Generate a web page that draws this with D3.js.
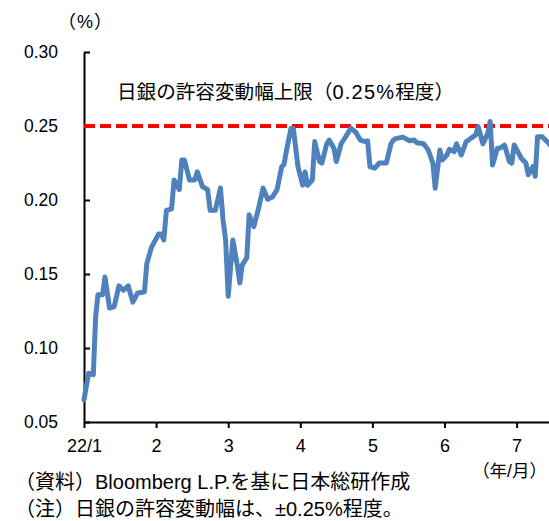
<!DOCTYPE html>
<html>
<head>
<meta charset="utf-8">
<script src="https://cdn.jsdelivr.net/npm/d3@7"></script>
<style>
  html, body { margin: 0; padding: 0; background: #fff; }
  svg { display: block; }
  text { font-family: "Liberation Sans", "Noto Sans CJK JP", sans-serif; fill: #000; }
</style>
</head>
<body>
<svg id="chart" width="549" height="521"></svg>
<script>
// 10-year JGB yield (%), 2022/1 – 2022/7
const dates = [
  "2022-01-01","2022-01-03","2022-01-05","2022-01-06","2022-01-07","2022-01-09","2022-01-10","2022-01-12",
  "2022-01-14","2022-01-16","2022-01-18","2022-01-20","2022-01-22","2022-01-24","2022-01-27","2022-01-28",
  "2022-01-30",
  "2022-02-02","2022-02-03","2022-02-04","2022-02-05","2022-02-07","2022-02-08","2022-02-10","2022-02-11",
  "2022-02-12","2022-02-14","2022-02-16","2022-02-17","2022-02-19","2022-02-21","2022-02-22","2022-02-24",
  "2022-02-26","2022-02-27","2022-02-28",
  "2022-03-01","2022-03-03","2022-03-05","2022-03-06","2022-03-07","2022-03-09","2022-03-10","2022-03-12",
  "2022-03-14","2022-03-16","2022-03-18","2022-03-20","2022-03-22","2022-03-24","2022-03-25","2022-03-26",
  "2022-03-28","2022-03-29","2022-03-31",
  "2022-04-02","2022-04-03","2022-04-04","2022-04-06","2022-04-07","2022-04-09","2022-04-10","2022-04-12",
  "2022-04-13","2022-04-15","2022-04-16","2022-04-18","2022-04-20","2022-04-22","2022-04-24","2022-04-26",
  "2022-04-28","2022-04-29","2022-04-30",
  "2022-05-02","2022-05-04","2022-05-07","2022-05-09","2022-05-10","2022-05-11","2022-05-14","2022-05-17",
  "2022-05-19","2022-05-20","2022-05-23","2022-05-25","2022-05-27","2022-05-28","2022-05-30","2022-05-31",
  "2022-06-02","2022-06-03","2022-06-05","2022-06-06","2022-06-08","2022-06-10","2022-06-12","2022-06-14",
  "2022-06-15","2022-06-17","2022-06-19","2022-06-20","2022-06-21","2022-06-23","2022-06-24","2022-06-26",
  "2022-06-28","2022-06-29","2022-06-30",
  "2022-07-03","2022-07-05","2022-07-06","2022-07-08","2022-07-09","2022-07-10","2022-07-12","2022-07-15",
  "2022-07-16"
];
const yields = [
  0.065,0.083,0.082,0.121,0.136,0.136,0.148,0.127,
  0.128,0.142,0.139,0.142,0.131,0.137,0.138,0.157,
  0.168,
  0.177,0.177,0.173,0.193,0.194,0.2135,0.207,0.227,
  0.227,0.2135,0.2135,0.219,0.209,0.207,0.193,0.193,
  0.208,0.1865,0.173,
  0.135,0.173,0.155,0.144,0.156,0.161,0.190,0.182,
  0.194,0.208,0.2005,0.202,0.207,0.2225,0.224,0.233,
  0.2485,0.2485,0.2225,
  0.210,0.219,0.210,0.2135,0.2395,0.226,0.225,0.238,
  0.2405,0.235,0.226,0.238,0.243,0.2485,0.246,0.2405,
  0.2395,0.240,0.2225,
  0.2215,0.225,0.225,0.238,0.2405,0.2415,0.2425,0.240,
  0.2405,0.2387,0.238,0.2338,0.225,0.208,0.2338,0.227,
  0.2304,0.2343,0.2327,0.238,0.2304,0.2394,0.2417,0.244,
  0.2495,0.238,0.245,0.253,0.2236,0.235,0.235,0.237,
  0.226,0.225,0.2372,
  0.2282,0.225,0.217,0.2225,0.216,0.2428,0.2428,0.238,
  0.236
];

// BOJ upper bound of the permitted band
const upperBound = 0.25;

const yTicks = [0.05, 0.10, 0.15, 0.20, 0.25, 0.30];
const monthTicks = [0, 1, 2, 3, 4, 5, 6];
const monthLabels = ["22/1", "2", "3", "4", "5", "6", "7"];

const unitLabel = "（%）";
const periodLabel = "（年/月）";
const boundLabelParts = ["日銀の許容変動幅上限（", "0.25%", "程度）"];
const notes = [
  "（資料）Bloomberg L.P.を基に日本総研作成",
  "（注）日銀の許容変動幅は、±0.25%程度。"
];

// each month occupies the same width on the axis
function monthPos(iso) {
  const [yr, m, d] = iso.split("-").map(Number);
  const days = new Date(yr, m, 0).getDate();
  return (m - 1) + (d - 1) / days;
}

const data = dates.map((d, i) => ({ pos: monthPos(d), v: yields[i] }));

const svg = d3.select("#chart");
const plotLeft = 84, plotBottom = 422, plotTop = 52;
const monthWidth = 72.1;

const x = d3.scaleLinear().domain([0, 7]).range([plotLeft, plotLeft + 7 * monthWidth]);
const y = d3.scaleLinear().domain([0.05, 0.30]).range([plotBottom, plotTop]);

// y axis: ticks point into the plot
const yAxis = svg.append("g")
  .attr("transform", `translate(${plotLeft},0)`)
  .call(d3.axisLeft(y).tickValues(yTicks).tickFormat(d3.format(".2f"))
    .tickSizeInner(-6).tickSizeOuter(0).tickPadding(26));
yAxis.select(".domain").attr("stroke", "#000").attr("stroke-width", 2);
yAxis.selectAll(".tick line").attr("stroke", "#000").attr("stroke-width", 2);
yAxis.selectAll(".tick text").attr("font-size", 17.5)
  .style("font-family", "'Liberation Sans', sans-serif");

// x axis: month ticks hang below
const xAxis = svg.append("g")
  .attr("transform", `translate(0,${plotBottom})`)
  .call(d3.axisBottom(x).tickValues(monthTicks).tickFormat((d, i) => monthLabels[i])
    .tickSizeInner(6).tickSizeOuter(0).tickPadding(11));
xAxis.select(".domain").attr("stroke", "#000").attr("stroke-width", 2);
xAxis.selectAll(".tick line").attr("stroke", "#000").attr("stroke-width", 2);
xAxis.selectAll(".tick text").attr("font-size", 18)
  .style("font-family", "'Liberation Sans', sans-serif");

// upper bound reference line
svg.append("line")
  .attr("x1", x(0)).attr("x2", x(7))
  .attr("y1", y(upperBound)).attr("y2", y(upperBound))
  .attr("stroke", "#FF0000").attr("stroke-width", 4)
  .attr("stroke-dasharray", "11,5");

// yield line
svg.append("path")
  .datum(data)
  .attr("fill", "none")
  .attr("stroke", "#4F81BD")
  .attr("stroke-width", 5)
  .attr("stroke-linejoin", "round")
  .attr("stroke-linecap", "round")
  .attr("d", d3.line().x(d => x(d.pos)).y(d => y(d.v)));

// labels
svg.append("text").attr("x", 58).attr("y", 28).attr("font-size", 18)
  .attr("letter-spacing", 1).text(unitLabel);

const bound = svg.append("text").attr("x", 117).attr("y", 99).attr("font-size", 19.6);
bound.append("tspan").text(boundLabelParts[0]);
bound.append("tspan").attr("font-size", 20).attr("letter-spacing", 1.2).text(boundLabelParts[1]);
bound.append("tspan").text(boundLabelParts[2]);

svg.append("text").attr("x", 547).attr("y", 477).attr("text-anchor", "end")
  .attr("font-size", 17.5).text(periodLabel);
notes.forEach((t, i) => {
  svg.append("text").attr("x", 15).attr("y", 489 + i * 27).attr("font-size", 20).text(t);
});
</script>
</body>
</html>
